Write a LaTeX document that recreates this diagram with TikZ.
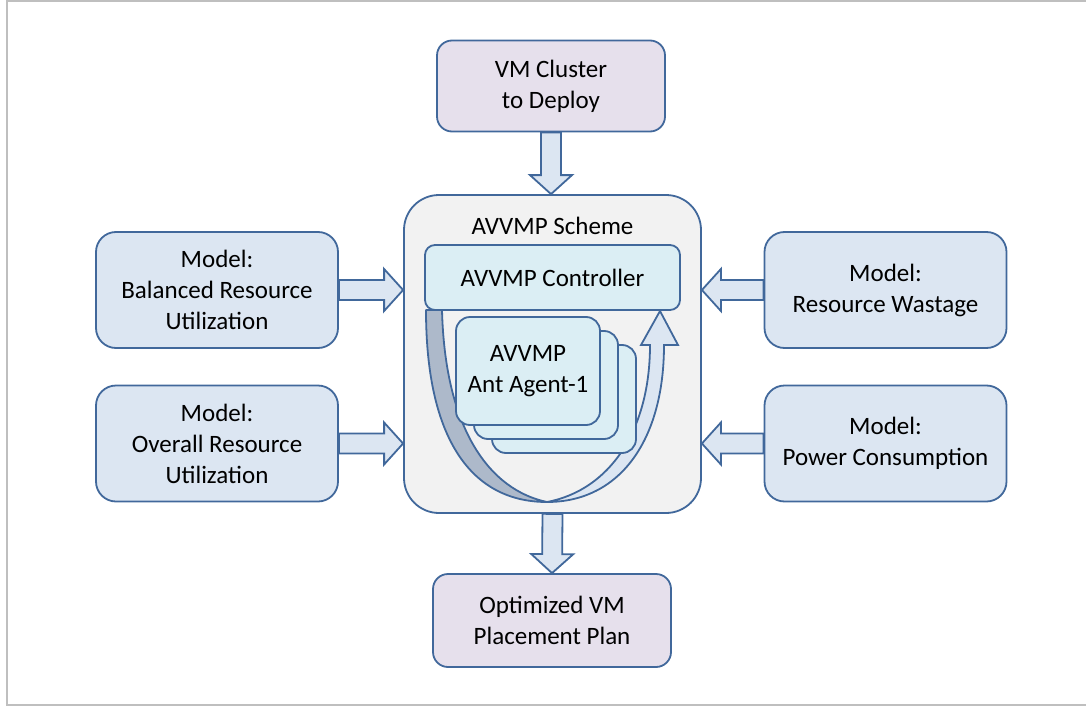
\documentclass[tikz,border=0pt]{standalone}
\usepackage{fontspec}
\setmainfont{Carlito}
\usetikzlibrary{calc}

\definecolor{edge}{HTML}{41689B}
\definecolor{lavender}{HTML}{E6E0EC}
\definecolor{paleblue}{HTML}{DCE6F2}
\definecolor{palecyan}{HTML}{DBEEF4}
\definecolor{panel}{HTML}{F2F2F2}
\definecolor{slate}{HTML}{ADB9CA}
\definecolor{framegray}{HTML}{BFBFBF}

\tikzset{
  box/.style={draw=edge, line width=1.8pt, align=center, inner sep=0pt,
    font=\fontsize{25}{31}\selectfont, text=black},
  modelbox/.style={box, fill=paleblue, rounded corners=20pt,
    minimum width=242pt, minimum height=116pt},
  endbox/.style={box, fill=lavender, rounded corners=15pt},
  agentbox/.style={box, fill=palecyan, rounded corners=14pt,
    minimum width=144pt, minimum height=108pt},
  blockarrow/.style={draw=edge, line width=1.8pt, fill=paleblue, line join=miter},
  caption/.style={font=\fontsize{25}{31}\selectfont, inner sep=0pt},
}

% hollow block arrow from #1 to the tip #2
\newcommand\fatarrow[2]{%
  \path (#1) coordinate (fa-s) (#2) coordinate (fa-e);
  \path ($(fa-e)!19pt!(fa-s)$) coordinate (fa-h);
  \draw[blockarrow] ($(fa-s)!10pt!90:(fa-e)$) -- ($(fa-h)!10pt!90:(fa-e)$)
    -- ($(fa-h)!21pt!90:(fa-e)$) -- (fa-e) -- ($(fa-h)!21pt!-90:(fa-e)$)
    -- ($(fa-h)!10pt!-90:(fa-e)$) -- ($(fa-s)!10pt!-90:(fa-e)$) -- cycle;}

\begin{document}
\begin{tikzpicture}[x=1pt, y=-1pt]
\useasboundingbox (0,0) rectangle (1086,706);

% outer frame
\draw[framegray, line width=2pt] (1095,1.5) -- (7,1.5) -- (7,704.5) -- (1095,704.5);

% inputs and output
\node[endbox, minimum width=228pt, minimum height=91pt] (cluster) at (551,86) {VM Cluster\\to Deploy};
\node[endbox, minimum width=238pt, minimum height=93pt] (plan) at (552,620.5) {Optimized VM\\Placement Plan};

\node[modelbox] (balanced) at (217,290) {Model:\\Balanced Resource\\Utilization};
\node[modelbox] (overall) at (217,443.5) {Model:\\Overall Resource\\Utilization};
\node[modelbox] (wastage) at (885.5,290) {Model:\\Resource Wastage};
\node[modelbox] (power) at (885.5,443.5) {Model:\\Power Consumption};

% the scheme panel
\node[box, fill=panel, rounded corners=35pt, minimum width=297pt, minimum height=318pt] (scheme) at (552.5,354) {};
\node[caption] (schemetitle) at (552.5,226) {AVVMP Scheme};

% feedback loop between controller and agents
\coordinate (turn) at (547,502);
\draw[draw=edge, line width=1.8pt, fill=slate, line join=round]
  (426,310) .. controls (426,440) and (472,502) .. (turn)
  .. controls (490,490) and (445,430) .. (442,310) -- cycle;
\draw[draw=edge, line width=1.8pt, fill=paleblue, line join=miter]
  (turn) .. controls (620,502) and (664,440) .. (664,345)
  -- (678,345) -- (660,311) -- (641,345) -- (650,345)
  .. controls (650,430) and (610,490) .. (turn) -- cycle;

\node[box, fill=palecyan, rounded corners=10pt, minimum width=255pt, minimum height=65pt] (ctrl) at (552.5,277.5) {AVVMP Controller};

\node[agentbox] (agent3) at (564,399) {};
\node[agentbox] (agent2) at (546,385) {};
\node[agentbox] (agent1) at (528,371) {AVVMP\\Ant Agent-1};

% block arrows
\fatarrow{cluster.south}{scheme.north -| cluster.south}
\fatarrow{balanced.east}{scheme.west |- balanced.east}
\fatarrow{overall.east}{scheme.west |- overall.east}
\fatarrow{wastage.west}{scheme.east |- wastage.west}
\fatarrow{power.west}{scheme.east |- power.west}
\fatarrow{scheme.south}{plan.north}

\end{tikzpicture}
\end{document}
